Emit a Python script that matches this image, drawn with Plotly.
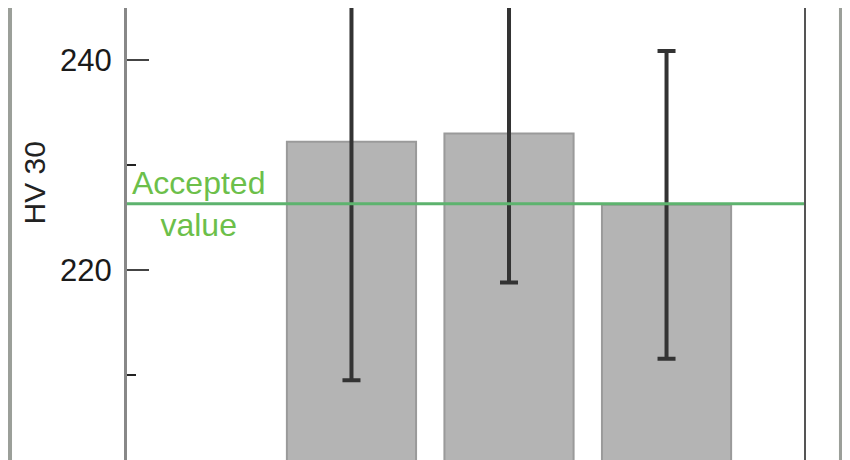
import plotly.graph_objects as go

# hardness readings (HV 30), three test groups
positions = [1, 2, 3]
hardness = [232.2, 233.0, 226.2]
spread = [22.7, 14.2, 14.65]
accepted = 226.3

tick_vals = [220, 240]
tick_text = ["220", "240"]

font_name = "Liberation Sans, Arial, sans-serif"

fig = go.Figure()

fig.add_trace(go.Bar(
    x=positions,
    y=hardness,
    width=0.82,
    marker=dict(color="#b4b4b4", line=dict(color="#9a9a9a", width=2)),
    error_y=dict(type="data", array=spread, visible=True,
                 color="#333333", thickness=4, width=9),
    showlegend=False,
))

# accepted value reference line
fig.add_hline(y=accepted, line=dict(color="#5db36e", width=3), layer="above")

fig.add_annotation(
    x=0.106, xref="paper", y=accepted, yref="y",
    text="Accepted<br>value", showarrow=False,
    xanchor="center", yanchor="middle",
    font=dict(family=font_name, size=32, color="#6cbf4a"),
)

# axis title placed where the original shows it
fig.add_annotation(
    x=-0.137, xref="paper", y=0.612, yref="paper",
    text="HV 30", textangle=-90, showarrow=False,
    xanchor="center", yanchor="middle",
    font=dict(family=font_name, size=30, color="#222222"),
)

# right frame line and the grey page edges
fig.add_shape(type="line", xref="paper", yref="paper", x0=1, x1=1, y0=0, y1=1,
              line=dict(color="#555555", width=2))
fig.add_shape(type="rect", xref="paper", yref="paper", x0=-0.19, x1=-0.1696,
              y0=-0.01, y1=1.01, fillcolor="#9b9f99", line=dict(width=0), layer="below")
fig.add_shape(type="rect", xref="paper", yref="paper", x0=1.0501, x1=1.08,
              y0=-0.01, y1=1.01, fillcolor="#9b9f99", line=dict(width=0), layer="below")

fig.update_layout(
    width=842, height=452,
    margin=dict(l=119, r=45, t=0, b=0),
    paper_bgcolor="white", plot_bgcolor="white",
    font=dict(family=font_name, size=31, color="#1a1a1a"),
    xaxis=dict(range=[-0.425, 3.879], showticklabels=False, showgrid=False,
               zeroline=False, ticks=""),
    yaxis=dict(range=[201.9, 244.94], tickvals=tick_vals, ticktext=tick_text,
               ticks="inside", ticklen=22, tickwidth=2, tickcolor="#444444",
               showline=True, linecolor="#888888", linewidth=3,
               showgrid=False, zeroline=False, ticklabelstandoff=6,
               minor=dict(dtick=10, tick0=0, ticks="inside", ticklen=9,
                          tickwidth=2, tickcolor="#222222", showgrid=False)),
)

fig.write_html("out.html")
